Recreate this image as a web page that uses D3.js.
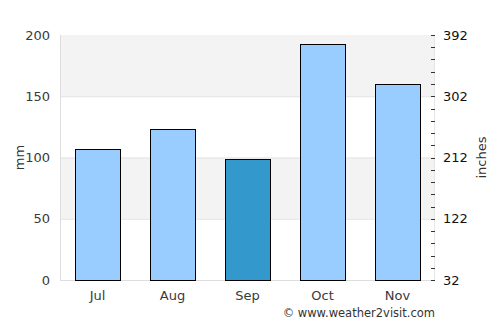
<!DOCTYPE html>
<html>
<head>
<meta charset="utf-8">
<script src="https://cdn.jsdelivr.net/npm/d3@7"></script>
<style>
    body { margin: 0; background: #fff; }
    text { font-family: "DejaVu Sans", sans-serif; }
</style>
</head>
<body>
<div id="chart"></div>
<script>
// data
let months = ["Jul", "Aug", "Sep", "Oct", "Nov"];
let rainfall = [107, 123, 99, 193, 160];
let highlight = "Sep";
let leftTicks = [0, 50, 100, 150, 200];
let rightTicks = [32, 122, 212, 302, 392];

let margin = {top: 35, right: 65, bottom: 45, left: 60};
let width = 500 - margin.left - margin.right;
let height = 325 - margin.top - margin.bottom;

let svg = d3.select("#chart").append("svg")
    .attr("width", 500)
    .attr("height", 325)
    .append("g")
    .attr("transform", `translate(${margin.left}, ${margin.top})`);

let x = d3.scaleBand()
    .domain(months)
    .range([0, width])
    .paddingInner(0.4)
    .paddingOuter(0.2);

let y = d3.scaleLinear()
    .domain([0, 200])
    .range([height, 0]);

let y2 = d3.scaleLinear()
    .domain([32, 392])
    .range([height, 0]);

// alternating bands
let bands = d3.pairs(leftTicks).filter((p, i) => i % 2 === 1);
svg.selectAll(".band")
    .data(bands)
    .join("rect")
    .attr("class", "band")
    .attr("x", 0)
    .attr("width", width)
    .attr("y", d => y(d[1]))
    .attr("height", d => y(d[0]) - y(d[1]))
    .attr("fill", "#f3f3f3");

// grid lines
svg.selectAll(".grid")
    .data(leftTicks.slice(1, -1))
    .join("line")
    .attr("class", "grid")
    .attr("x1", 0)
    .attr("x2", width)
    .attr("y1", d => y(d) + 0.5)
    .attr("y2", d => y(d) + 0.5)
    .attr("stroke", "#e2e2e2");

// frame lines
svg.append("line")
    .attr("x1", 0.5).attr("x2", 0.5)
    .attr("y1", 0).attr("y2", height)
    .attr("stroke", "#ddd");
svg.append("line")
    .attr("x1", 0).attr("x2", width)
    .attr("y1", height + 0.5).attr("y2", height + 0.5)
    .attr("stroke", "#ddd");
svg.append("line")
    .attr("x1", width - 0.5).attr("x2", width - 0.5)
    .attr("y1", 0).attr("y2", height)
    .attr("stroke", "#e6e6e6");

// bars
svg.selectAll(".bar")
    .data(months)
    .join("rect")
    .attr("class", "bar")
    .attr("x", d => Math.round(x(d)) + 0.5)
    .attr("width", Math.round(x.bandwidth()))
    .attr("y", (d, i) => Math.round(y(rainfall[i])) + 0.5)
    .attr("height", (d, i) => height - Math.round(y(rainfall[i])))
    .attr("fill", d => d === highlight ? "#3399cc" : "#99ccff")
    .attr("stroke", "#000")
    .attr("stroke-width", 1);

// left axis
let yAxis = d3.axisLeft(y).tickValues(leftTicks).tickSize(0).tickPadding(10);
let yAxisGroup = svg.append("g").call(yAxis);
yAxisGroup.select(".domain").remove();
yAxisGroup.selectAll("text")
    .attr("font-size", 13)
    .attr("fill", "#3a3a3a")
    .style("font-family", "DejaVu Sans, sans-serif");

// right axis with minor ticks
let minor = d3.range(32, 393, 18);
svg.selectAll(".minor")
    .data(minor)
    .join("line")
    .attr("class", "minor")
    .attr("x1", width - 4)
    .attr("x2", width)
    .attr("y1", d => Math.round(y2(d)) + 0.5)
    .attr("y2", d => Math.round(y2(d)) + 0.5)
    .attr("stroke", "#333");

let y2Axis = d3.axisRight(y2).tickValues(rightTicks).tickSize(0).tickPadding(8);
let y2AxisGroup = svg.append("g")
    .attr("transform", `translate(${width}, 0)`)
    .call(y2Axis);
y2AxisGroup.select(".domain").remove();
y2AxisGroup.selectAll("text")
    .attr("font-size", 13)
    .attr("fill", "#111")
    .style("font-family", "DejaVu Sans, sans-serif");

// x axis
let xAxis = d3.axisBottom(x).tickSize(0).tickPadding(11);
let xAxisGroup = svg.append("g")
    .attr("transform", `translate(0, ${height})`)
    .call(xAxis);
xAxisGroup.select(".domain").remove();
xAxisGroup.selectAll("text")
    .attr("font-size", 13)
    .attr("fill", "#3a3a3a")
    .style("font-family", "DejaVu Sans, sans-serif");

// axis titles
svg.append("text")
    .attr("transform", `translate(-36, ${height / 2}) rotate(-90)`)
    .attr("text-anchor", "middle")
    .attr("font-size", 13)
    .attr("fill", "#333")
    .text("mm");

svg.append("text")
    .attr("transform", `translate(${width + 51}, ${height / 2}) rotate(-90)`)
    .attr("text-anchor", "middle")
    .attr("font-size", 13)
    .attr("fill", "#333")
    .text("inches");

// credit
svg.append("text")
    .attr("x", width)
    .attr("y", height + 37)
    .attr("text-anchor", "end")
    .attr("font-size", 11.5)
    .attr("fill", "#333")
    .text("© www.weather2visit.com");
</script>
</body>
</html>
